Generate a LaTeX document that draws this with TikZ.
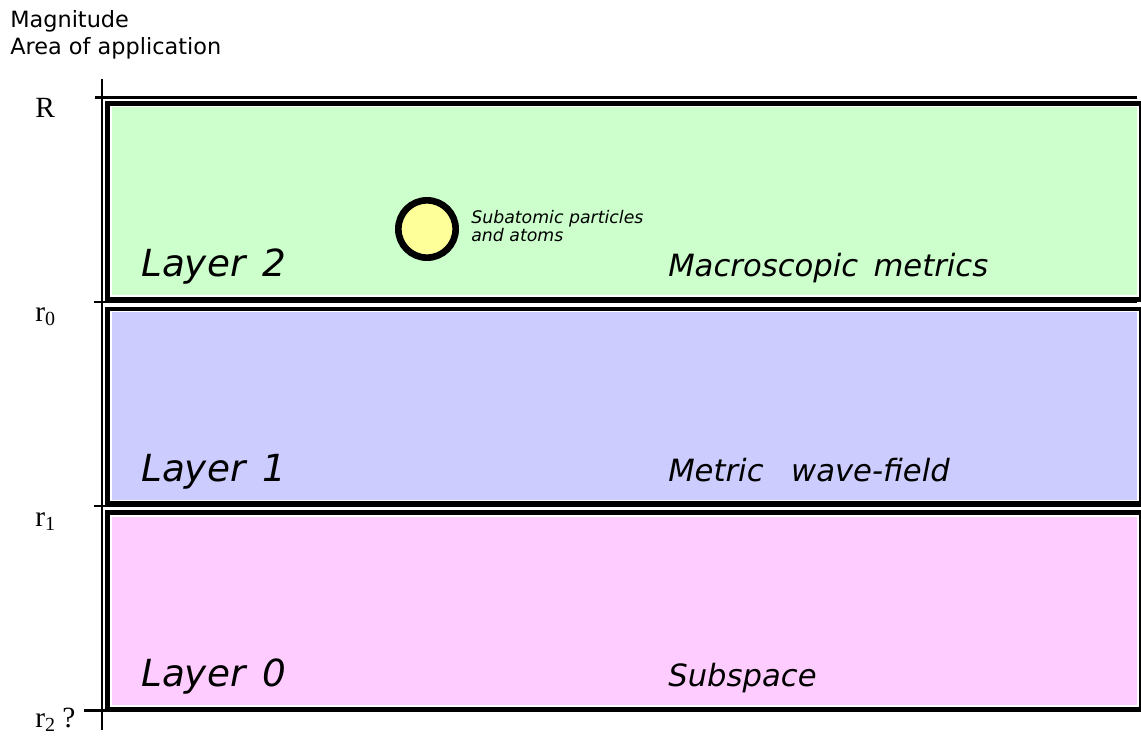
\documentclass[tikz,border=0pt]{standalone}
\usepackage{fontspec}
\setmainfont{Liberation Serif}
\setsansfont{DejaVu Sans}
\definecolor{layergreen}{HTML}{CCFFCC}
\definecolor{layerblue}{HTML}{CCCCFF}
\definecolor{layerpink}{HTML}{FFCCFF}
\definecolor{atomyellow}{HTML}{FFFF99}
\tikzset{
  hdr/.style={font=\sffamily\fontsize{16.8}{19}\selectfont, anchor=base west, inner sep=0pt},
  layerlbl/.style={font=\sffamily\itshape\fontsize{28}{31}\selectfont, anchor=base west, inner sep=0pt},
  desclbl/.style={font=\sffamily\itshape\fontsize{23}{26}\selectfont, anchor=base west, inner sep=0pt},
  smalllbl/.style={font=\sffamily\itshape\fontsize{13}{15}\selectfont, anchor=base west, inner sep=0pt},
  axislbl/.style={font=\rmfamily\fontsize{22}{25}\selectfont, anchor=base west, inner sep=0pt},
  axisline/.style={line width=2.1pt},
  outerbox/.style={fill=black, draw=none},
  innerbox/.style={draw=white, line width=1.3pt},
  atom/.style={circle, draw=black, line width=5pt, fill=atomyellow, minimum size=43pt, inner sep=0pt}
}
\newcommand{\mysub}[1]{\raisebox{-0.35ex}{\fontsize{15}{17}\selectfont #1}}
\begin{document}
\begin{tikzpicture}[x=0.75pt,y=-0.75pt]
\useasboundingbox (0,0) rectangle (1141,735);
% header
\node[hdr] (mag) at (10,28) {Magnitude};
\node[hdr] (area) at (10,55) {Area of application};
% axis
\draw[axisline] (102,79) -- (102,730);
\draw[axisline] (95,97.3) -- (1137,97.3);
\draw[axisline] (94,302) -- (1137,302);
\draw[axisline] (94,506) -- (1137,506);
\draw[axisline] (84,710.7) -- (1137,710.7);
% boxes
\fill[outerbox] (105.3,100.7) rectangle (1141,302);
\draw[innerbox, fill=layergreen] (111.2,106.5) rectangle (1138.3,296);
\fill[outerbox] (105.3,306.8) rectangle (1141,507);
\draw[innerbox, fill=layerblue] (111.2,311.5) rectangle (1138.3,500.6);
\fill[outerbox] (105.3,510) rectangle (1141,711.5);
\draw[innerbox, fill=layerpink] (111.2,515.8) rectangle (1138.3,705.8);
% axis labels
\node[axislbl] (lR) at (35,117) {R};
\node[axislbl] (lr0) at (35,321) {r\mysub{0}};
\node[axislbl] (lr1) at (35,526) {r\mysub{1}};
\node[axislbl] (lr2) at (35,727) {r\mysub{2}\ ?};
% layer labels
\node[layerlbl] (L2) at (141,276) {Layer\hspace{0.45em}2};
\node[layerlbl] (L1) at (141,481) {Layer\hspace{0.45em}1};
\node[layerlbl] (L0) at (141,686) {Layer\hspace{0.45em}0};
\node[desclbl] (d2) at (668,276) {Macroscopic\hspace{0.5em}metrics};
\node[desclbl] (d1) at (668,481) {Metric\hspace{0.9em}wave-field};
\node[desclbl] (d0) at (668,686) {Subspace};
% atom
\node[atom] (atomc) at (427,229) {};
\node[smalllbl] (sa1) at (471,223) {Subatomic particles};
\node[smalllbl] (sa2) at (471,241) {and atoms};
\end{tikzpicture}
\end{document}
